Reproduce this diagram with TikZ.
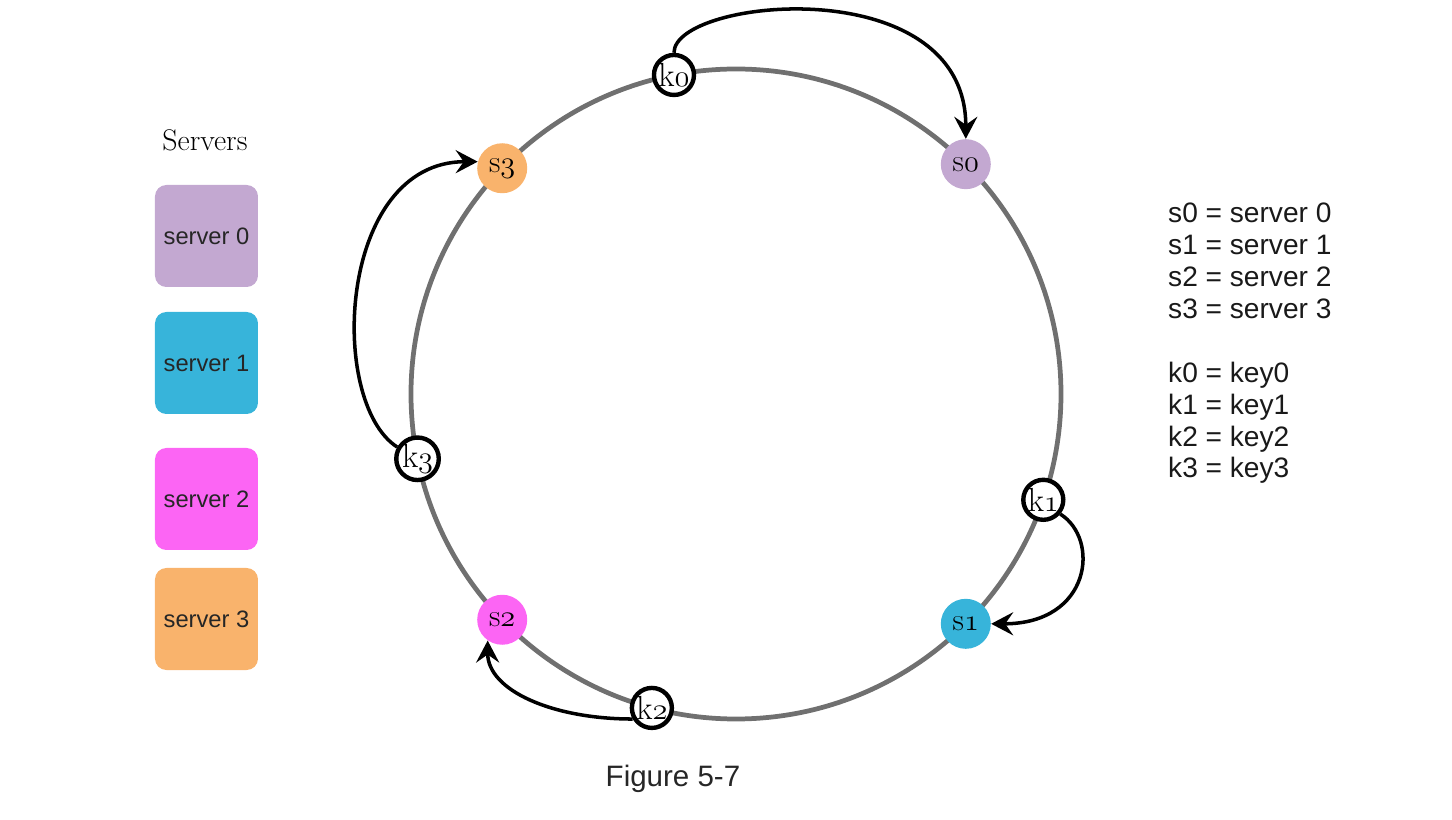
\documentclass[tikz,border=0pt]{standalone}
\usepackage{fontspec}
\newfontfamily\arial{Liberation Sans}
\usetikzlibrary{positioning,arrows.meta}
\definecolor{srvzero}{HTML}{C3A8D1}
\definecolor{srvone}{HTML}{37B4DA}
\definecolor{srvtwo}{HTML}{FC65F4}
\definecolor{srvthree}{HTML}{F9B36C}
\definecolor{ringgray}{HTML}{707070}
\newcommand\onum[1]{$\mathnormal{#1}$}

\begin{document}
\begin{tikzpicture}[
  ring/.style={draw=ringgray, line width=2.7pt},
  srv/.style={circle, minimum size=1cm, inner sep=0pt, font=\fontsize{18}{18}\selectfont},
  key/.style={circle, draw=black, line width=2.5pt, fill=white, minimum size=0.8cm, inner sep=0pt, font=\fontsize{19}{19}\selectfont},
  legbox/.style={rounded corners=6.5pt, minimum width=2.06cm, minimum height=2.04cm, font=\arial\fontsize{13.5}{16}\selectfont, text=black!85},
  legtext/.style={font=\arial\fontsize{16}{18.1}\selectfont, align=left, anchor=west, text=black!90},
  arr/.style={-{Stealth[length=4.4mm,width=4.6mm,inset=1.6mm]}, draw=black, line width=2pt}]
\useasboundingbox (-14.72,-8.52) rectangle (14.32,7.88);
\def\R{6.5}
\draw[ring] (0,0) circle (\R);
\node[srv, fill=srvzero] (s0) at (45:\R) {s\onum{0}};
\node[srv, fill=srvone] (s1) at (-45:\R) {s\onum{1}};
\node[srv, fill=srvtwo] (s2) at (224:\R) {s\onum{2}};
\node[srv, fill=srvthree] (s3) at (136:\R) {s\onum{3}};
\node[key] (k0) at (101:\R) {k\onum{0}};
\node[key] (k1) at (-19:\R) {k\onum{1}};
\node[key] (k2) at (255:\R) {k\onum{2}};
\node[key] (k3) at (191.5:\R) {k\onum{3}};
\node[font=\fontsize{17}{18}\selectfont] (title) at (-10.62,5.08) {Servers};
\node[legbox, fill=srvzero] (box0) at (-10.59,3.16) {server 0};
\node[legbox, fill=srvone] (box1) at (-10.59,0.62) {server 1};
\node[legbox, fill=srvtwo] (box2) at (-10.59,-2.10) {server 2};
\node[legbox, fill=srvthree] (box3) at (-10.59,-4.50) {server 3};
\node[legtext] (smap) at (8.52,2.66) {s0 = server 0\\ s1 = server 1\\ s2 = server 2\\ s3 = server 3};
\node[legtext] (kmap) at (8.52,-0.58) {k0 = key0\\ k1 = key1\\ k2 = key2\\ k3 = key3};
\node[font=\arial\fontsize{16.8}{20}\selectfont, text=black!85] (fig) at (-1.26,-7.70) {Figure 5-7};
\draw[arr] (k0.north) .. controls +(0,1.1) and +(0,3.4) .. (s0.north);
\draw[arr] (k1.-40) .. controls +(0.8,-0.5) and +(2.0,0) .. (s1.east);
\draw[arr] (k2.210) .. controls +(-1.6,0) and +(0,-1.0) .. (s2.235);
\draw[arr] (k3.150) .. controls +(-1.4,0.9) and +(-2.8,0) .. (s3.165);
\end{tikzpicture}
\end{document}
